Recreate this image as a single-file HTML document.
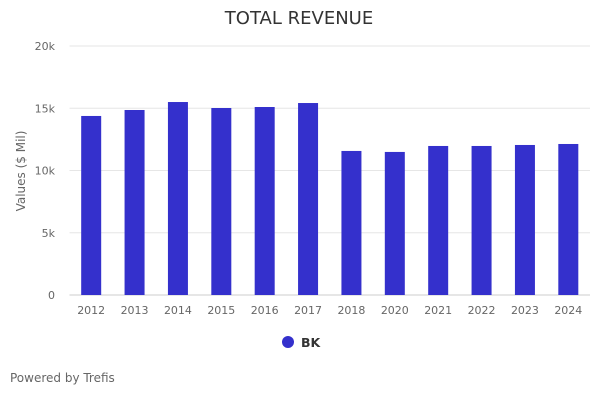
<!DOCTYPE html>
<html><head><meta charset="utf-8"><style>
body{margin:0;background:#fff;font-family:"DejaVu Sans","Liberation Sans",sans-serif;}
svg text{font-family:"DejaVu Sans","Liberation Sans",sans-serif;}
</style></head><body>
<svg id="c" width="600" height="400">
<text x="299" y="24" text-anchor="middle" font-size="18" fill="#333">TOTAL REVENUE</text>
<g id="grid"></g><g id="bars"></g><g id="xl"></g>
<text transform="translate(25,171) rotate(-90)" text-anchor="middle" font-size="12" fill="#666">Values ($ Mil)</text>
<g><circle cx="288" cy="342" r="6" fill="#3430cc"/><text x="301" y="347" font-size="12.5" font-weight="bold" fill="#333">BK</text></g>
<text x="10" y="382" font-size="12" fill="#666">Powered by Trefis</text>
</svg>
<script>
const categories=["2012","2013","2014","2015","2016","2017","2018","2020","2021","2022","2023","2024"];
const values=[14380,14860,15500,15020,15100,15420,11570,11490,11970,11970,12050,12130];
const yTicks=[0,5000,10000,15000,20000];
const yTickLabels=["0","5k","10k","15k","20k"];
const NS="http://www.w3.org/2000/svg";
const x0=69.5,x1=590,yb=295,yt=46,ymax=20000;
const y=v=>yb-(yb-yt)*v/ymax;
const bw=(x1-x0)/categories.length;
const xc=i=>x0+bw*(i+0.5);
function mk(t,a,p){const e=document.createElementNS(NS,t);for(const k in a)e.setAttribute(k,a[k]);p.appendChild(e);return e;}
const g=document.getElementById('grid');
yTicks.forEach((t,i)=>{
const l=mk('line',{x1:x0,x2:x1,y1:y(t),y2:y(t),stroke:i==0?'#ccc':'#e6e6e6'},g);


const tx=mk('text',{x:55,y:y(t)+4,'text-anchor':'end','font-size':11,fill:'#666'},g);
tx.textContent=yTickLabels[i];


});
const b=document.getElementById('bars'),xl=document.getElementById('xl');
values.forEach((v,i)=>{
const r=mk('rect',{x:xc(i)-10,y:y(v),width:20,height:yb-y(v),fill:'#3430cc'},b);


const t=mk('text',{x:xc(i),y:314,'text-anchor':'middle','font-size':11,fill:'#666'},xl);
t.textContent=categories[i];


});
</script>
</body></html>
